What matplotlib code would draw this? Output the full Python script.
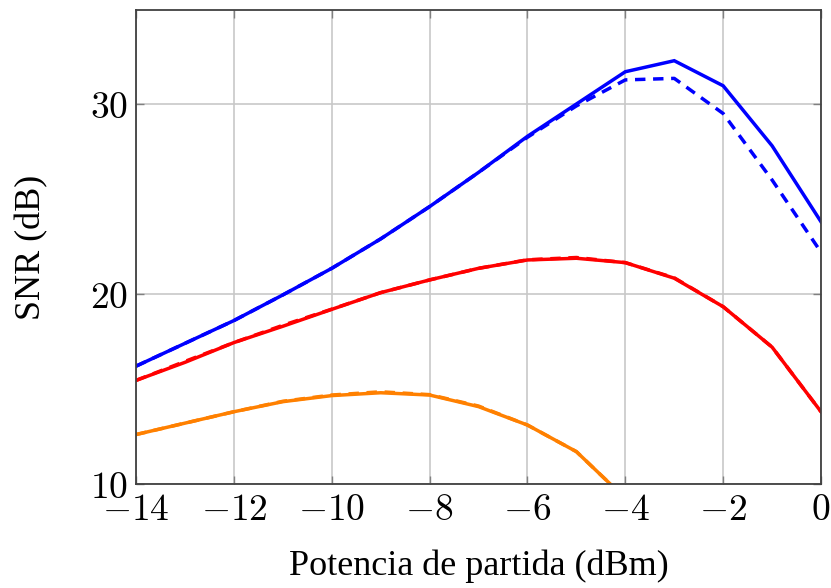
import matplotlib
matplotlib.use("Agg")
import matplotlib.pyplot as plt
import numpy as np

x = [-14, -13, -12, -11, -10, -9, -8, -7, -6, -5, -4, -3, -2, -1, 0]

blue_solid = [16.2, 17.4, 18.6, 19.95, 21.35, 22.9, 24.6, 26.4, 28.3, 30.0, 31.7, 32.28, 30.96, 27.8, 23.8]
blue_dash  = [16.2, 17.4, 18.6, 19.95, 21.35, 22.9, 24.6, 26.4, 28.25, 29.9, 31.27, 31.35, 29.5, 26.0, 22.2]
red_solid  = [15.45, 16.4, 17.44, 18.3, 19.19, 20.07, 20.74, 21.35, 21.79, 21.88, 21.65, 20.83, 19.33, 17.2, 13.8]
red_dash   = [15.45, 16.45, 17.44, 18.35, 19.2, 20.07, 20.74, 21.35, 21.8, 21.92, 21.65, 20.85, 19.33, 17.2, 13.8]
orange_solid = [12.6, 13.2, 13.8, 14.33, 14.65, 14.8, 14.68, 14.07, 13.1, 11.7, 9.24]
orange_dash  = [12.6, 13.2, 13.8, 14.35, 14.68, 14.85, 14.7, 14.1, 13.1, 11.7, 9.24]

xticks = [-14, -12, -10, -8, -6, -4, -2, 0]
yticks = [10, 20, 30]

plt.rcParams['mathtext.fontset'] = 'cm'

fig = plt.figure(figsize=(8.31, 5.88), dpi=100)
ax = fig.add_axes([0.1637, 0.177, 0.988 - 0.1637, 0.983 - 0.177])

lw = 2.5
ax.plot(x, blue_solid, color='#0000ff', lw=lw, solid_joinstyle='miter')
ax.plot(x, blue_dash, color='#0000ff', lw=lw, ls=(0, (3, 2.2)))
ax.plot(x, red_solid, color='#ff0000', lw=lw)
ax.plot(x, red_dash, color='#ff0000', lw=lw, ls=(0, (3, 2.2)))
ax.plot(x[:len(orange_solid)], orange_solid, color='#ff8000', lw=lw)
ax.plot(x[:len(orange_dash)], orange_dash, color='#ff8000', lw=lw, ls=(0, (3, 2.2)))

ax.set_xlim(-14, 0)
ax.set_ylim(10, 34.95)
ax.set_xticks(xticks)
ax.set_yticks(yticks)
ax.set_xticklabels([r'$%d$' % v if v >= 0 else r'$-%d$' % (-v) for v in xticks], fontsize=27)
ax.set_yticklabels([r'$%d$' % v for v in yticks], fontsize=27)
ax.grid(True, color='#c8c8c8', lw=1.2)
ax.set_axisbelow(True)
ax.tick_params(direction='in', length=6, width=1.0, color='#808080', top=True, right=True)
ax.tick_params(axis='x', pad=6)
ax.tick_params(axis='y', pad=6)
for s in ax.spines.values():
    s.set_color('#404040')
    s.set_linewidth(1.3)

ax.set_xlabel('Potencia de partida (dBm)', fontsize=26, family='Liberation Serif', labelpad=15)
ax.set_ylabel('SNR (dB)', fontsize=26, family='Liberation Serif', labelpad=30)

fig.savefig('out.png', dpi=100)
